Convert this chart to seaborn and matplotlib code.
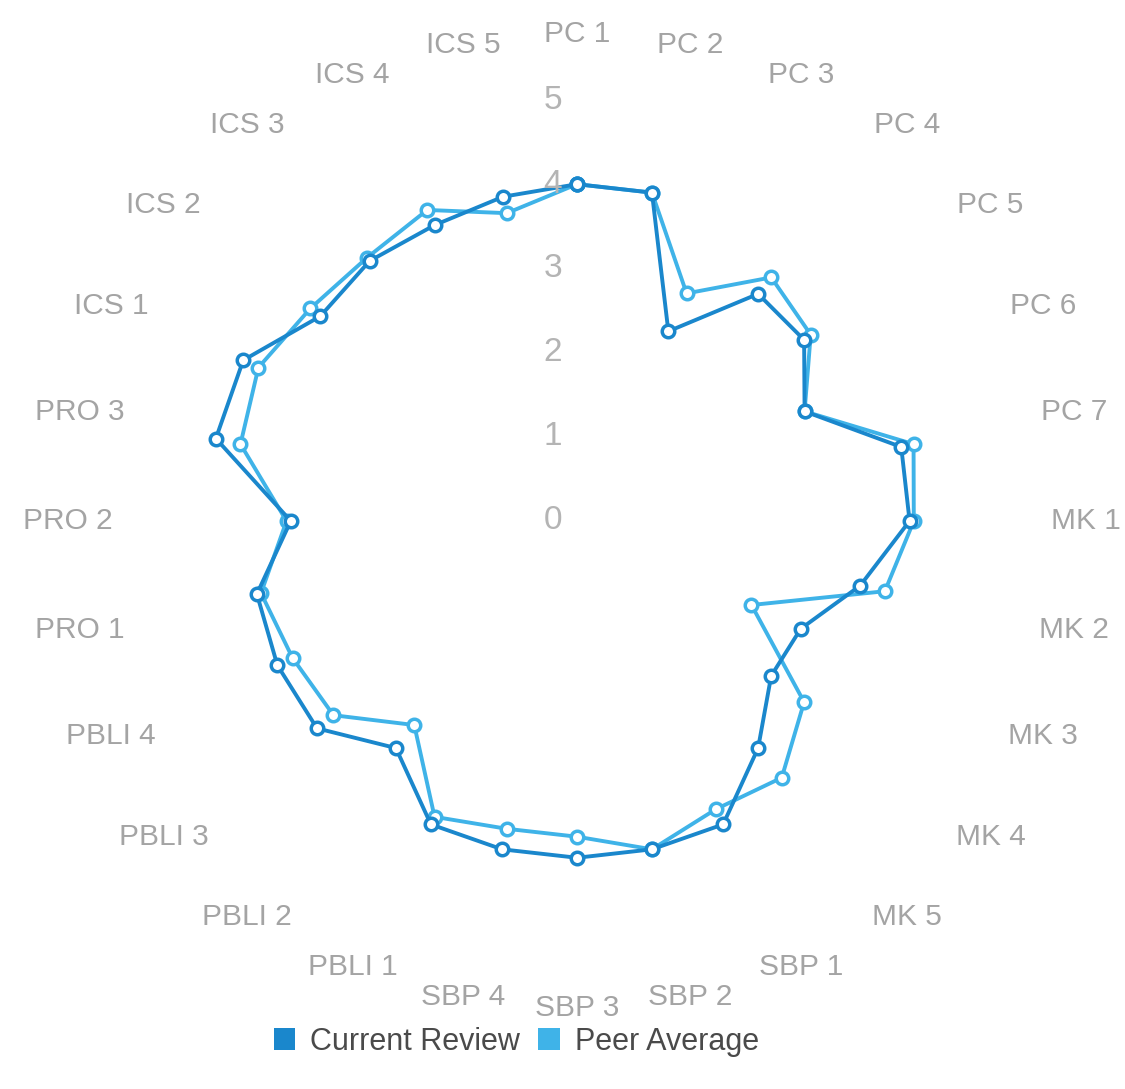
import numpy as np
import pandas as pd
import matplotlib
matplotlib.use("Agg")
import matplotlib.pyplot as plt
import seaborn as sns
from matplotlib.patches import Patch
from matplotlib.transforms import offset_copy

# competency items, clockwise from the top
categories = ["PC 1", "PC 2", "PC 3", "PC 4", "PC 5", "PC 6", "PC 7",
              "MK 1", "MK 2", "MK 3", "MK 4", "MK 5",
              "SBP 1", "SBP 2", "SBP 3", "SBP 4",
              "PBLI 1", "PBLI 2", "PBLI 3", "PBLI 4",
              "PRO 1", "PRO 2", "PRO 3",
              "ICS 1", "ICS 2", "ICS 3", "ICS 4", "ICS 5"]

current_review = [4.0, 4.0, 2.5, 3.45, 3.45, 3.0, 3.95,
                  3.95, 3.45, 2.95, 2.95, 3.45,
                  4.0, 4.0, 4.0, 4.0,
                  4.0, 3.45, 3.95, 3.95,
                  3.9, 3.4, 4.4,
                  4.4, 3.9, 3.95, 3.9, 3.95]

peer_average = [4.0, 4.0, 3.0, 3.7, 3.55, 3.0, 4.1,
                4.0, 3.75, 2.3, 3.45, 3.9,
                3.8, 4.0, 3.75, 3.75,
                3.9, 3.1, 3.7, 3.75,
                3.85, 3.45, 4.1,
                4.2, 4.05, 4.0, 4.1, 3.75]

radial_ticks = [0, 1, 2, 3, 4, 5]

series_names = ["Current Review", "Peer Average"]
series_colors = ["#1a87cc", "#3fb3e8"]

sns.set_theme(style="white")
plt.rcParams["font.family"] = ["Liberation Sans", "DejaVu Sans"]

n = len(categories)
theta = np.arange(n) * 2 * np.pi / n
theta_closed = np.append(theta, 2 * np.pi)

fig = plt.figure(figsize=(11.25, 10.89), dpi=100)
ax = fig.add_axes([0.1387, 0.135, 0.7484, 0.7732], projection="polar")
ax.set_theta_zero_location("N")
ax.set_theta_direction(-1)

frames = []
for name, vals in zip(series_names, [current_review, peer_average]):
    frames.append(pd.DataFrame({"theta": theta_closed,
                                "value": vals + vals[:1],
                                "series": name}))
df = pd.concat(frames, ignore_index=True)

# peer first so the current review sits on top
for name, color in list(zip(series_names, series_colors))[::-1]:
    sub = df[df["series"] == name]
    sns.lineplot(data=sub, x="theta", y="value", ax=ax, sort=False,
                 estimator=None, color=color, linewidth=2.8,
                 marker="o", markersize=9, markerfacecolor="white",
                 markeredgecolor=color, markeredgewidth=2.5, legend=False)

ax.set_ylim(0, 5)
ax.set_xticks([])
ax.set_yticks([])
ax.grid(False)
ax.spines["polar"].set_visible(False)
ax.set_xlabel("")
ax.set_ylabel("")

# radial tick numbers, drawn a little left of the vertical axis
tick_tr = offset_copy(ax.transData, fig=fig, x=-24, y=0, units="dots")
for v in radial_ticks:
    ax.text(0, v, str(v), transform=tick_tr, ha="center", va="center",
            fontsize=24, color="#b4b4b4")

# category labels around the outside, pushed out a bit on the diagonals
label_r = 5.62
for ang, lab in zip(theta, categories):
    extra = 22 * abs(np.sin(2 * ang)) ** 4
    dx = (36 + extra) * np.sin(ang)
    dy = (14 + extra) * np.cos(ang)
    ax.annotate(lab, xy=(ang, label_r), xytext=(dx, dy),
                textcoords="offset pixels", ha="center", va="center",
                fontsize=21.5, color="#a4a4a4", annotation_clip=False)

handles = [Patch(facecolor=c, edgecolor="none") for c in series_colors]
fig.legend(handles, series_names, loc="center", bbox_to_anchor=(0.459, 0.0435),
           ncol=2, frameon=False, fontsize=22, handlelength=0.7,
           handleheight=0.7, handletextpad=0.5, columnspacing=0.6,
           labelcolor="#4a4a4a")

fig.savefig("out.png", dpi=100, facecolor="white")
